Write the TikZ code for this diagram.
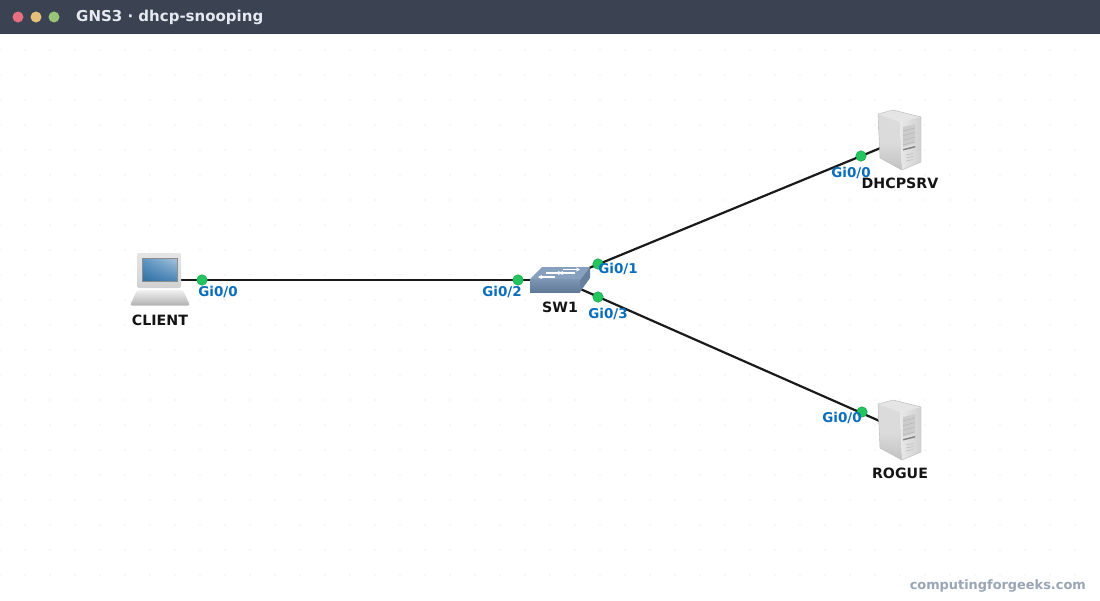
\documentclass[tikz,border=0pt]{standalone}
\usepackage{fontspec}
\setmainfont{DejaVu Sans}
\usetikzlibrary{calc,shadings,arrows.meta}
\definecolor{hdr}{HTML}{3B4252}
\definecolor{titletext}{HTML}{E5E9F0}
\definecolor{portblue}{HTML}{0A6EBD}
\definecolor{portgreen}{HTML}{22C55E}
\definecolor{portedge}{HTML}{16A34A}
\definecolor{wire}{HTML}{1A1A1A}
\definecolor{griddot}{HTML}{EDEFF2}
\definecolor{wm}{HTML}{9AA5B5}
\definecolor{scrA}{HTML}{2F6FA3}
\definecolor{scrB}{HTML}{5F97C4}
\definecolor{scrC}{HTML}{4A86B8}
\definecolor{scrD}{HTML}{A9C4DC}
\definecolor{swtop}{HTML}{87A0BE}
\definecolor{swside}{HTML}{64809E}
\definecolor{swfronta}{HTML}{7D96B4}
\definecolor{swfrontb}{HTML}{5F7A98}
\tikzset{
  anchorpt/.style={inner sep=0pt,minimum size=0pt,outer sep=0pt},
  link/.style={draw=wire,line width=2.2pt},
  portdot/.style={circle,fill=portgreen,draw=portedge,line width=.5pt,minimum size=10.5pt,inner sep=0pt},
  portlabel/.style={text=portblue,font=\fontsize{13.5}{15}\selectfont\bfseries,inner sep=0pt},
  devlabel/.style={text=black!92,font=\fontsize{14.2}{16}\selectfont\bfseries,inner sep=0pt},
  traffic/.style={circle,minimum size=11pt,inner sep=0pt},
  swarrow/.style={draw=white,line width=1.3pt,-{Stealth[length=4pt,width=4pt]}},
}
\newcommand{\servericon}[1]{%
  \begin{scope}[shift={(#1)}]
    \fill[black!10] (-22,-26) -- (-7,-30) -- (21,-23) -- (0,-18) -- cycle;
    \shade[top color=black!14,bottom color=black!24,middle color=black!14] (-22,-26) -- (0,-18) -- (2,30) -- (-20,18) -- cycle;
    \shade[left color=black!9,right color=black!18] (0,-18) -- (21,-23) -- (21,22) -- (2,30) -- cycle;
    \draw[black!28,line width=.4pt,line join=round] (-22,-26) -- (-7,-30) -- (21,-23) -- (21,22) -- (2,30) -- (-20,18) -- cycle;
    \fill[black!20] (3,-13) -- (15,-16) -- (15,3) -- (3,7) -- cycle;
    \foreach \k in {0,1,2,3}
      \draw[black!30,line width=.4pt] ($(3,-9)+(0,\k*4.6)$) -- ($(15,-12)+(0,\k*4.6)$);
    \fill[black!50] (3,9) -- (15,6) -- (15,7.5) -- (3,10.5) -- cycle;
    \foreach \k in {0,1,2}
      \draw[black!28,line width=.5pt] ($(6,15)+(0,\k*3)$) -- ($(13,13.5)+(0,\k*3)$);
  \end{scope}}
\begin{document}
\begin{tikzpicture}[x=1pt,y=-1pt]
\useasboundingbox (0,0) rectangle (1100,600);
\fill[white] (0,0) rectangle (1100,600);
% canvas dot grid
\foreach \gy in {50,75,...,575}
  \foreach \gx in {0,25,...,1075}
    \fill[griddot] (\gx,\gy) circle (.8);
% header
\fill[hdr] (0,0) rectangle (1100,34);
\node[traffic,fill={rgb,255:red,229;green,112;blue,127}] (dotred) at (18,17) {};
\node[traffic,fill={rgb,255:red,229;green,192;blue,123}] (dotyellow) at (36,17) {};
\node[traffic,fill={rgb,255:red,152;green,195;blue,121}] (dotgreen) at (54,17) {};
\node[anchor=west,inner sep=0pt,text=titletext,font=\fontsize{15}{18}\selectfont\bfseries] (title) at (76,17) {GNS3 · dhcp-snooping};
% device anchors
\node[anchorpt] (client) at (160,280) {};
\node[anchorpt] (sw) at (560,280) {};
\node[anchorpt] (dhcp) at (900,140) {};
\node[anchorpt] (rogue) at (900,430) {};
% links
\draw[link] (client.center) -- (sw.center);
\draw[link] (sw.center) -- (dhcp.center);
\draw[link] (sw.center) -- (rogue.center);
% laptop
\shade[top color=black!6,bottom color=black!30,rounded corners=2pt] (137,290) -- (183,290) -- (190,305.5) -- (130,305.5) -- cycle;
\shade[top color=black!10,bottom color=black!18,rounded corners=2pt] (137,253) rectangle (181,288);
\shade[lower left=scrA,lower right=scrC,upper left=scrB,upper right=scrD] (142,258) rectangle (177,281);
\draw[black!45,line width=.4pt] (142,258) rectangle (177,281);
% switch
\fill[swtop] (530,279) -- (542,267) -- (590,267) -- (580,280) -- cycle;
\fill[swside] (580,280) -- (590,267) -- (590,278) -- (580,292) -- cycle;
\shade[top color=swfronta,bottom color=swfrontb] (530,279) rectangle (580,292);
\draw[swarrow] (555,277) -- (538,277);
\draw[swarrow] (546,273) -- (562,273);
\draw[swarrow] (575,273) -- (559,273);
\draw[swarrow] (563,269.5) -- (580,269.5);
% servers
\servericon{900,140}
\servericon{900,430}
% port dots
\node[portdot] (p1) at (202,280) {};
\node[portdot] (p2) at (518,280) {};
\node[portdot] (p3) at (598,264) {};
\node[portdot] (p4) at (598,297) {};
\node[portdot] (p5) at (861,156) {};
\node[portdot] (p6) at (862,412) {};
% port labels
\node[portlabel] (l1) at (218,291.5) {Gi0/0};
\node[portlabel] (l2) at (502,291.5) {Gi0/2};
\node[portlabel] (l3) at (618,268.5) {Gi0/1};
\node[portlabel] (l4) at (608,313.5) {Gi0/3};
\node[portlabel] (l5) at (851,172.5) {Gi0/0};
\node[portlabel] (l6) at (842,417.5) {Gi0/0};
% device labels
\node[devlabel] (tclient) at (160,320.5) {CLIENT};
\node[devlabel] (tsw) at (560,307.5) {SW1};
\node[devlabel] (tdhcp) at (900,183.5) {DHCPSRV};
\node[devlabel] (trogue) at (900,473.5) {ROGUE};
% watermark
\node[anchor=east,inner sep=0pt,text=wm,font=\fontsize{12.9}{16}\selectfont\bfseries] (mark) at (1086,586) {computingforgeeks.com};
\end{tikzpicture}
\end{document}
